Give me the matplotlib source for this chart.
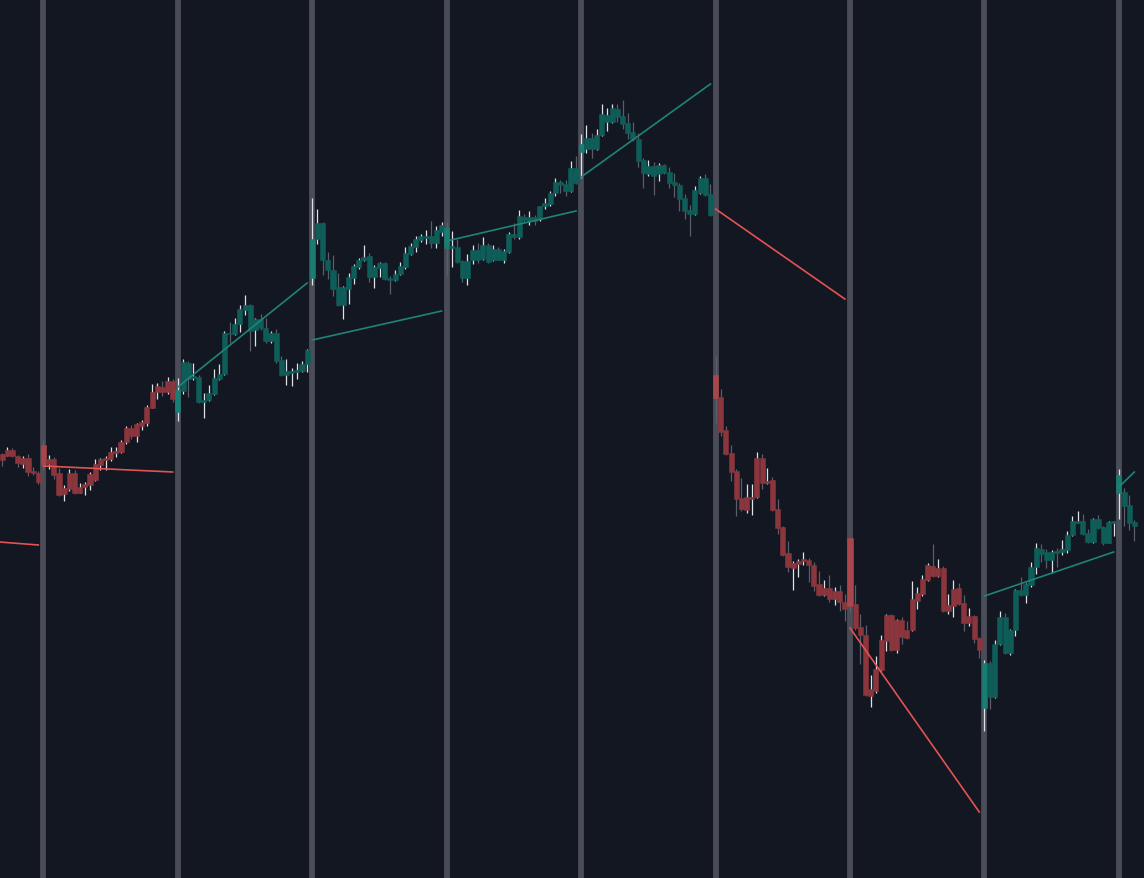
import numpy as np
import matplotlib.pyplot as plt

# candles, one list per field, grouped by segment (26 bars between separators)
first_bar = -8
seg_len = 26
seg_trend = ['down', 'down', 'up', 'up', 'up', 'up', 'down', 'down', 'up', 'up']

opens = [
    424, 422, 428, 422, 414, 420, 407, 405,
    433, 414, 419, 405, 384, 389, 405, 385, 391, 393, 398, 413, 418, 419, 425, 426, 436, 450, 442, 452, 455, 470, 486, 491, 486, 497,
    466, 487, 515, 500, 501, 476, 478, 484, 499, 504, 545, 544, 554, 568, 573, 548, 559, 550, 537, 545, 518, 503, 505, 506, 507, 514,
    600, 639, 655, 618, 608, 591, 573, 589, 600, 611, 618, 622, 601, 610, 615, 600, 598, 604, 611, 624, 631, 638, 640, 642, 635, 646,
    650, 630, 631, 617, 600, 618, 628, 619, 633, 618, 629, 618, 626, 644, 641, 661, 657, 661, 659, 672, 674, 685, 696, 694, 687, 710,
    726, 729, 740, 729, 743, 756, 756, 769, 762, 755, 746, 739, 718, 704, 712, 704, 713, 706, 696, 693, 680, 668, 664, 685, 700, 684,
    503, 481, 448, 425, 407, 380, 368, 379, 381, 420, 395, 398, 369, 351, 325, 310, 314, 317, 318, 313, 294, 283, 290, 279, 287, 276,
    340, 274, 251, 243, 182, 187, 208, 237, 263, 228, 258, 248, 248, 277, 284, 298, 312, 302, 310, 267, 272, 290, 275, 255, 262, 240,
    170, 215, 181, 234, 261, 225, 248, 288, 283, 293, 311, 329, 326, 318, 327, 326, 328, 343, 355, 357, 345, 336, 359, 351, 335, 355,
    385, 386, 373, 356,
]
closes = [
    418, 428, 422, 415, 420, 406, 405, 396,
    414, 419, 403, 383, 390, 405, 385, 391, 394, 404, 414, 419, 420, 426, 427, 436, 450, 442, 454, 456, 471, 486, 492, 486, 497, 479,
    488, 516, 499, 502, 476, 478, 485, 500, 504, 545, 544, 554, 569, 573, 547, 559, 550, 537, 545, 517, 503, 507, 507, 508, 514, 528,
    639, 655, 618, 608, 589, 573, 591, 601, 612, 618, 621, 601, 611, 615, 599, 598, 604, 612, 625, 632, 639, 642, 642, 635, 648, 653,
    630, 632, 616, 600, 617, 628, 618, 633, 616, 629, 618, 627, 644, 641, 662, 658, 661, 657, 672, 675, 685, 696, 693, 687, 710, 695,
    734, 740, 729, 743, 764, 763, 770, 761, 754, 745, 739, 717, 705, 712, 702, 713, 705, 695, 693, 679, 667, 664, 688, 700, 683, 663,
    480, 446, 424, 406, 379, 369, 381, 381, 420, 395, 397, 368, 350, 323, 311, 315, 317, 319, 313, 292, 283, 290, 279, 287, 276, 269,
    272, 250, 243, 183, 189, 209, 238, 263, 228, 258, 241, 240, 279, 285, 299, 313, 302, 310, 267, 273, 289, 274, 255, 262, 239, 228,
    215, 181, 234, 261, 225, 248, 288, 283, 294, 311, 330, 324, 318, 326, 325, 329, 343, 357, 357, 344, 336, 359, 350, 335, 356, 357,
    403, 372, 355, 352,
]
highs = [
    425, 431, 430, 423, 422, 424, 411, 407,
    438, 423, 421, 410, 393, 409, 408, 395, 396, 406, 419, 420, 422, 431, 431, 438, 452, 453, 455, 458, 473, 494, 495, 497, 501, 499,
    500, 519, 517, 515, 503, 485, 493, 509, 514, 547, 556, 560, 573, 583, 574, 560, 564, 560, 547, 549, 522, 519, 510, 515, 517, 529,
    680, 669, 656, 626, 623, 605, 592, 605, 614, 620, 633, 625, 613, 616, 616, 602, 608, 616, 631, 635, 642, 644, 648, 657, 652, 656,
    656, 647, 639, 618, 624, 633, 635, 641, 635, 633, 631, 629, 646, 655, 668, 664, 667, 663, 672, 680, 687, 700, 698, 698, 717, 722,
    744, 753, 745, 749, 774, 770, 774, 774, 778, 765, 756, 745, 720, 718, 716, 715, 714, 711, 705, 695, 684, 673, 692, 702, 704, 694,
    522, 489, 452, 433, 409, 400, 394, 394, 426, 424, 410, 401, 379, 352, 337, 317, 319, 326, 320, 316, 307, 298, 303, 291, 293, 284,
    340, 293, 264, 253, 203, 222, 243, 264, 264, 259, 261, 257, 297, 291, 303, 315, 334, 319, 312, 284, 298, 295, 283, 270, 263, 241,
    218, 217, 238, 267, 265, 249, 289, 301, 295, 316, 335, 334, 329, 328, 330, 338, 347, 362, 367, 364, 349, 360, 363, 352, 357, 357,
    409, 390, 383, 358,
]
lows = [
    412, 422, 421, 411, 410, 402, 403, 394,
    409, 409, 399, 382, 377, 387, 384, 385, 383, 388, 397, 408, 408, 417, 421, 425, 434, 439, 436, 448, 452, 470, 479, 482, 484, 476,
    457, 484, 481, 498, 475, 460, 477, 483, 498, 503, 535, 543, 546, 563, 527, 532, 548, 535, 535, 515, 502, 493, 492, 499, 506, 506,
    593, 634, 603, 599, 582, 572, 559, 574, 594, 609, 617, 596, 590, 601, 598, 584, 597, 603, 609, 623, 626, 636, 634, 630, 630, 642,
    602, 611, 615, 596, 593, 614, 615, 618, 615, 617, 618, 615, 625, 639, 639, 656, 653, 653, 657, 669, 672, 682, 685, 682, 686, 694,
    700, 725, 720, 728, 742, 747, 755, 756, 749, 739, 737, 711, 690, 702, 683, 697, 704, 690, 681, 667, 659, 642, 663, 684, 682, 662,
    455, 442, 423, 397, 362, 367, 365, 363, 380, 389, 394, 367, 344, 322, 306, 288, 301, 313, 296, 287, 282, 282, 276, 273, 267, 257,
    266, 248, 214, 182, 171, 185, 207, 227, 227, 225, 234, 239, 247, 269, 282, 297, 301, 301, 266, 264, 261, 273, 247, 252, 235, 220,
    147, 169, 180, 233, 224, 223, 242, 282, 275, 291, 304, 316, 310, 305, 311, 323, 325, 342, 355, 343, 335, 335, 349, 333, 335, 342,
    359, 352, 348, 337,
]

# trend lines, one per segment: bar index and price at both ends
fit_x0 = [-26, 0, 26, 52, 78, 104, 130, 156, 182, 208]
fit_x1 = [-1, 25, 51, 77, 103, 129, 155, 181, 207, 211]
fit_y0 = [343, 412, 491, 538, 637, 701, 669, 250, 282, 391]
fit_y1 = [333, 406, 595, 567, 667, 794, 579, 66, 326, 406]

separators = [0, 26, 52, 78, 104, 130, 156, 182, 208]

bg = '#131722'
body_col = {'up': '#0f5d58', 'down': '#8a363c'}
first_col = {'up': '#1a7d73', 'down': '#a9464c'}
line_col = {'up': '#1f8478', 'down': '#e35353'}
wick_up = '#dfe1e6'
wick_down = '#5b5e68'

o = np.array(opens, float)
c = np.array(closes, float)
h = np.array(highs, float)
l = np.array(lows, float)
idx = np.arange(first_bar, first_bar + len(o))
seg = idx // seg_len + 1

fig = plt.figure(figsize=(11.44, 8.79), dpi=100)
fig.patch.set_facecolor(bg)
ax = fig.add_axes([0, 0, 1, 1])
ax.set_facecolor(bg)

for s in separators:
    ax.axvline(s, color='#4a4d57', lw=4.2, zorder=1)

wcol = [wick_up if cc > oo else wick_down for oo, cc in zip(o, c)]
ax.vlines(idx, l, h, colors=wcol, lw=0.9, zorder=2)

bcol = []
for i, s in zip(idx, seg):
    t = seg_trend[s]
    bcol.append(first_col[t] if i in separators else body_col[t])
bottom = np.minimum(o, c)
height = np.maximum(np.abs(c - o), 1.5)
ax.bar(idx, height, bottom=bottom, width=0.98, color=bcol,
       edgecolor=bcol, linewidth=0.4, zorder=3)

for x0, x1, y0, y1, t in zip(fit_x0, fit_x1, fit_y0, fit_y1, seg_trend):
    ax.plot([x0, x1], [y0, y1], color=line_col[t], lw=1.2, zorder=4)

ax.set_xlim(-8.41, 212.86)
ax.set_ylim(0, 879)
ax.axis('off')

fig.savefig('out.png', dpi=100, facecolor=bg)
